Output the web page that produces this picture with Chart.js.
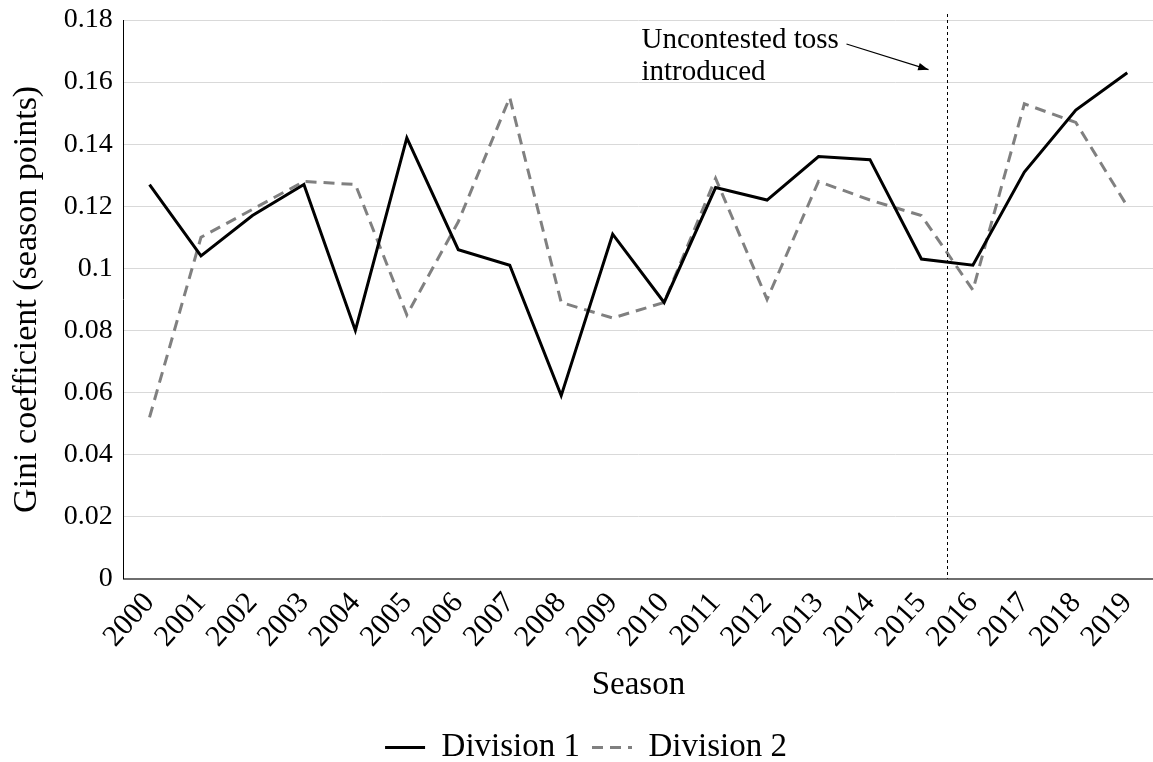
<!DOCTYPE html>
<html>
<head>
<meta charset="utf-8">
<script src="https://cdn.jsdelivr.net/npm/chart.js@4.4.0/dist/chart.umd.min.js"></script>
<style>
  html, body { margin: 0; padding: 0; background: #fff; overflow: hidden; }
  #wrap { width: 1153px; height: 762px; }
</style>
</head>
<body>
<div id="wrap"><canvas id="giniChart"></canvas></div>
<script>
// 시즌 (x축)
const seasons = ['2000','2001','2002','2003','2004','2005','2006','2007','2008','2009',
                 '2010','2011','2012','2013','2014','2015','2016','2017','2018','2019'];
// Division 1 지니계수
const division1 = [0.127, 0.104, 0.117, 0.127, 0.080, 0.142, 0.106, 0.101, 0.059, 0.111,
                   0.089, 0.126, 0.122, 0.136, 0.135, 0.103, 0.101, 0.131, 0.151, 0.163];
// Division 2 지니계수
const division2 = [0.052, 0.110, 0.119, 0.128, 0.127, 0.085, 0.115, 0.155, 0.089, 0.084,
                   0.089, 0.129, 0.090, 0.128, 0.122, 0.117, 0.093, 0.153, 0.147, 0.120];
// 규칙 변경 시점 (2015와 2016 사이)
const tossIntroducedAt = 15.5;
const annotationLines = ['Uncontested toss', 'introduced'];

const serif = "'Liberation Serif', 'Times New Roman', serif";

// 세로 점선 + 주석 그리기
const tossAnnotation = {
    id: 'tossAnnotation',
    afterDatasetsDraw(chart) {
        const { ctx, chartArea, scales } = chart;
        const x = Math.round(scales.x.getPixelForValue(tossIntroducedAt)) + 0.5;
        ctx.save();
        ctx.strokeStyle = '#000';
        ctx.lineWidth = 1;
        ctx.setLineDash([3, 3]);
        ctx.beginPath();
        ctx.moveTo(x, chartArea.top - 6);
        ctx.lineTo(x, chartArea.bottom);
        ctx.stroke();
        ctx.setLineDash([]);

        // 텍스트
        ctx.fillStyle = '#000';
        ctx.font = '29px ' + serif;
        ctx.textBaseline = 'middle';
        ctx.textAlign = 'left';
        const tx = x - 306;
        ctx.fillText(annotationLines[0], tx, chartArea.top + 20);
        ctx.fillText(annotationLines[1], tx, chartArea.top + 52);

        // 화살표
        const sx = x - 101, sy = chartArea.top + 24;
        const ex = x - 19, ey = scales.y.getPixelForValue(0.164);
        ctx.lineWidth = 1.2;
        ctx.beginPath();
        ctx.moveTo(sx, sy);
        ctx.lineTo(ex, ey);
        ctx.stroke();
        const ang = Math.atan2(ey - sy, ex - sx);
        ctx.beginPath();
        ctx.moveTo(ex, ey);
        ctx.lineTo(ex - 11 * Math.cos(ang - 0.35), ey - 11 * Math.sin(ang - 0.35));
        ctx.lineTo(ex - 11 * Math.cos(ang + 0.35), ey - 11 * Math.sin(ang + 0.35));
        ctx.closePath();
        ctx.fill();
        ctx.restore();
    }
};

function drawChart() {
    const ctx = document.getElementById('giniChart').getContext('2d');
    new Chart(ctx, {
        type: 'line',
        data: {
            labels: seasons,
            datasets: [{
                label: 'Division 1',
                data: division1,
                borderColor: '#000000',
                backgroundColor: '#000000',
                borderWidth: 3,
                pointRadius: 0,
                tension: 0
            }, {
                label: 'Division 2',
                data: division2,
                borderColor: '#808080',
                backgroundColor: '#808080',
                borderWidth: 3,
                borderDash: [11, 7],
                pointRadius: 0,
                tension: 0
            }]
        },
        options: {
            responsive: true,
            maintainAspectRatio: false,
            animation: false,
            layout: { padding: { top: 20, right: -12, left: 7, bottom: -12 } },
            scales: {
                x: {
                    offset: true,
                    grid: { display: false, drawTicks: false },
                    border: { color: '#6e6e6e', width: 2 },
                    ticks: {
                        color: '#000',
                        font: { family: serif, size: 30 },
                        minRotation: 48,
                        maxRotation: 48,
                        padding: 7,
                        autoSkip: false
                    },
                    title: {
                        display: true,
                        text: 'Season',
                        color: '#000',
                        font: { family: serif, size: 33 },
                        padding: { top: 4, bottom: 14 }
                    },
                    // 오른쪽 여백 제거 (원본은 플롯이 끝까지 감)
                    afterFit: scale => { scale.paddingRight = 0; }
                },
                y: {
                    min: 0,
                    max: 0.18,
                    ticks: {
                        stepSize: 0.02,
                        color: '#000',
                        font: { family: serif, size: 28 },
                        padding: 11,
                        callback: v => String(+v.toFixed(2))
                    },
                    grid: { color: '#d9d9d9', lineWidth: 1, drawTicks: false },
                    border: { color: '#000', width: 1 },
                    title: {
                        display: true,
                        text: 'Gini coefficient (season points)',
                        color: '#000',
                        font: { family: serif, size: 34 },
                        padding: { top: 0, bottom: 5 }
                    },
                    afterFit: scale => { scale.paddingTop = 0; }
                }
            },
            plugins: {
                legend: {
                    position: 'bottom',
                    labels: {
                        color: '#000',
                        font: { family: serif, size: 33 },
                        usePointStyle: true,
                        pointStyle: 'line',
                        pointStyleWidth: 40,
                        padding: 12,
                        // 범례에도 점선 표시
                        generateLabels: chart => {
                            const items = Chart.defaults.plugins.legend.labels.generateLabels(chart);
                            items.forEach(item => {
                                const ds = chart.data.datasets[item.datasetIndex];
                                item.lineDash = ds.borderDash || [];
                                item.lineWidth = ds.borderWidth;
                                item.strokeStyle = ds.borderColor;
                            });
                            return items;
                        }
                    }
                },
                tooltip: { enabled: false }
            }
        },
        plugins: [tossAnnotation]
    });
}

document.addEventListener('DOMContentLoaded', () => {
    drawChart();
});
</script>
</body>
</html>
